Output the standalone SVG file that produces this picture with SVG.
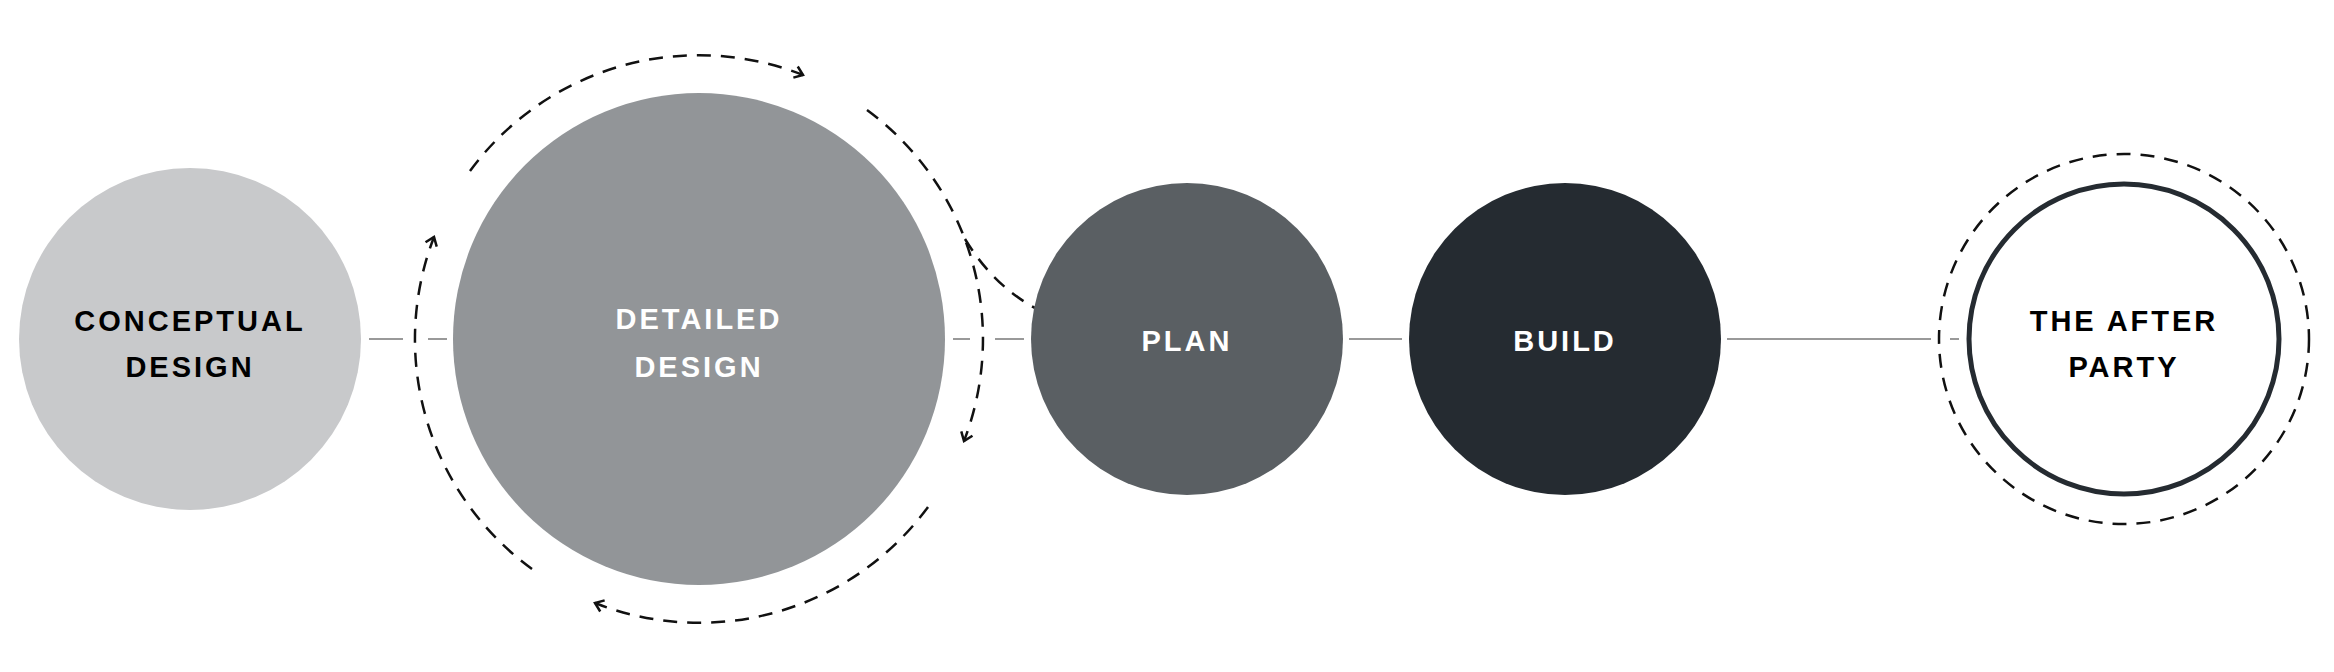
<svg xmlns="http://www.w3.org/2000/svg" width="2334" height="672" viewBox="0 0 2334 672">
<style>
.t{font-family:"Liberation Sans",Arial,sans-serif;font-weight:bold;font-size:29px;letter-spacing:3px;text-anchor:middle}
.d{fill:#000}.w{fill:#fff}
.ln{stroke:#999;stroke-width:2;fill:none}
.da{stroke:#111;stroke-width:2.5;fill:none;stroke-dasharray:14 10}
</style>
<defs>
<marker id="ah" markerWidth="16" markerHeight="16" refX="10" refY="8" orient="auto" markerUnits="userSpaceOnUse">
<path d="M2,2 L10,8 L2,14" fill="none" stroke="#111" stroke-width="2.5"/>
</marker>
</defs>
<g id="connectors">
<line class="ln" x1="369" y1="339" x2="403" y2="339"/>
<line class="ln" x1="428" y1="339" x2="447" y2="339"/>
<line class="ln" x1="953" y1="339" x2="970" y2="339"/>
<line class="ln" x1="995" y1="339" x2="1024" y2="339"/>
<line class="ln" x1="1349" y1="339" x2="1402" y2="339"/>
<line class="ln" x1="1727" y1="339" x2="1931" y2="339"/>
<line class="ln" x1="1950" y1="339" x2="1959" y2="339"/>
<path class="da" d="M470,171 A284,284 0 0 1 803,75" marker-end="url(#ah)"/>
<path class="da" d="M867,110 A284,284 0 0 1 964,441" marker-end="url(#ah)"/>
<path class="da" d="M928,507 A284,284 0 0 1 595,603" marker-end="url(#ah)"/>
<path class="da" d="M532,569 A284,284 0 0 1 434,237" marker-end="url(#ah)"/>
<path class="da" d="M965,239 Q1005,305 1075,324" marker-end="url(#ah)"/>
</g>
<g id="conceptual">
<circle cx="190" cy="339" r="171" fill="#c8c9cb"/>
<text class="t d" x="190" y="331">CONCEPTUAL</text>
<text class="t d" x="190" y="377">DESIGN</text>
</g>
<g id="detailed">
<circle cx="699" cy="339" r="246" fill="#929598"/>
<text class="t w" x="699" y="329">DETAILED</text>
<text class="t w" x="699" y="377">DESIGN</text>
</g>
<g id="plan">
<circle cx="1187" cy="339" r="156" fill="#5a5f63"/>
<text class="t w" x="1187" y="351">PLAN</text>
</g>
<g id="build">
<circle cx="1565" cy="339" r="156" fill="#252b31"/>
<text class="t w" x="1565" y="351">BUILD</text>
</g>
<g id="afterparty">
<circle class="da" cx="2124" cy="339" r="185"/>
<circle cx="2124" cy="339" r="155" fill="#fff" stroke="#252b31" stroke-width="5"/>
<text class="t d" x="2124" y="331">THE AFTER</text>
<text class="t d" x="2124" y="377">PARTY</text>
</g>
</svg>
